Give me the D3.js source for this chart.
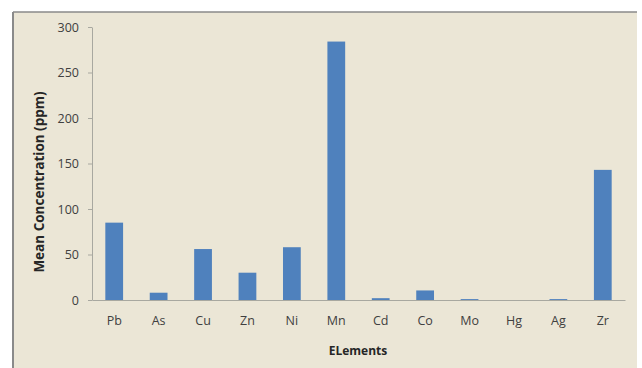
<!DOCTYPE html>
<html>
<head>
<meta charset="utf-8">
<script src="https://cdn.jsdelivr.net/npm/d3@7"></script>
<style>
  body { margin: 0; background: #fff; }
  svg { display: block; font-family: "Open Sans", sans-serif; }
</style>
</head>
<body>
<svg id="chart" width="642" height="368"></svg>
<script>
const elements = ["Pb", "As", "Cu", "Zn", "Ni", "Mn", "Cd", "Co", "Mo", "Hg", "Ag", "Zr"];
const meanConc = [85, 8, 56, 30, 58, 284, 2, 10.5, 1, 0, 1, 143];
const yTicks = [0, 50, 100, 150, 200, 250, 300];

const width = 642, height = 368;
const svg = d3.select("#chart");

const plotLeft = 92, plotRight = 625;
const yBottom = 300, yTop = 27;

// chart background panel
svg.append("rect")
    .attr("x", 13).attr("y", 12)
    .attr("width", 624).attr("height", 360)
    .attr("fill", "#ebe6d6");
svg.append("line")
    .attr("x1", 13).attr("x2", 637).attr("y1", 12).attr("y2", 12)
    .attr("stroke", "#8a8a8a").attr("stroke-width", 1.5);
svg.append("line")
    .attr("x1", 13).attr("x2", 13).attr("y1", 12).attr("y2", 368)
    .attr("stroke", "#8a8a8a").attr("stroke-width", 2);

const x = d3.scaleBand().domain(elements).range([plotLeft, plotRight]).paddingInner(0.6).paddingOuter(0.3);
const y = d3.scaleLinear().domain([0, 300]).range([yBottom, yTop]);

// y axis
svg.append("g")
    .attr("transform", `translate(${plotLeft},0)`)
    .call(d3.axisLeft(y).tickValues(yTicks).tickSize(4).tickSizeOuter(0))
    .call(g => g.select(".domain").attr("stroke", "#a8a8a0"))
    .call(g => g.selectAll(".tick line").attr("stroke", "#a8a8a0"))
    .call(g => g.selectAll(".tick text").attr("fill", "#404040").attr("font-size", 12.5).attr("x", -13)
        .attr("font-family", "Open Sans, sans-serif"));

// bars
svg.append("g").selectAll("rect")
    .data(elements)
    .join("rect")
    .attr("x", d => x(d))
    .attr("width", x.bandwidth())
    .attr("y", (d, i) => y(meanConc[i]))
    .attr("height", (d, i) => y(0) - y(meanConc[i]))
    .attr("fill", "#4f81bd");

// x axis
svg.append("g")
    .attr("transform", `translate(0,${yBottom})`)
    .call(d3.axisBottom(x).tickSize(0).tickPadding(16))
    .call(g => g.select(".domain").attr("stroke", "#a8a8a0"))
    .call(g => g.selectAll(".tick text").attr("fill", "#404040").attr("font-size", 12.5)
        .attr("font-family", "Open Sans, sans-serif"));

// axis titles
svg.append("text")
    .attr("x", 358).attr("y", 355)
    .attr("text-anchor", "middle")
    .attr("font-size", 12).attr("font-weight", "bold")
    .attr("fill", "#262626")
    .text("ELements");

svg.append("text")
    .attr("transform", "translate(44,182) rotate(-90)")
    .attr("text-anchor", "middle")
    .attr("font-size", 13.5).attr("font-weight", "bold")
    .attr("fill", "#262626")
    .text("Mean Concentration (ppm)");
</script>
</body>
</html>
